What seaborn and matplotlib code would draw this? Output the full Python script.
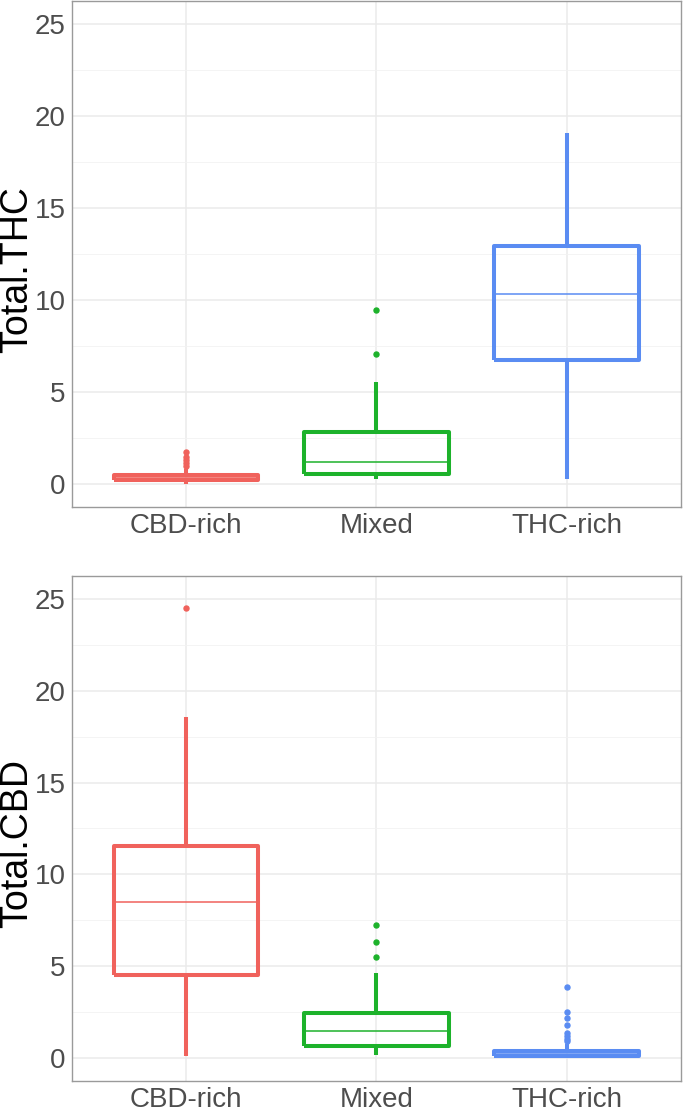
import pandas as pd
import matplotlib
matplotlib.use('Agg')
import matplotlib.pyplot as plt
from matplotlib.ticker import MultipleLocator
import seaborn as sns

# Category order and ggplot-like colours
categories = ['CBD-rich', 'Mixed', 'THC-rich']
colors = ['#F0625C', '#1DB22B', '#5A8CF2']

# Total.THC values per chemotype (estimated from the figure)
thc_cbd_rich = [0.0, 0.05, 0.1, 0.15, 0.15, 0.2, 0.2, 0.22, 0.25, 0.25, 0.28, 0.3, 0.3,
                0.32, 0.35, 0.4, 0.45, 0.5, 0.5, 0.8, 1.0, 1.15, 1.3, 1.45, 1.72]
thc_mixed = [0.27, 0.35, 0.45, 0.54, 0.7, 0.9, 1.2, 1.6, 2.2, 2.83, 5.54, 7.07, 9.46]
thc_thc_rich = [0.27, 6.74, 10.33, 12.93, 19.1]

# Total.CBD values per chemotype (estimated from the figure)
cbd_cbd_rich = [0.1, 2.5, 4.53, 6.5, 8.52, 10.0, 11.57, 18.56, 24.5]
cbd_mixed = [0.16, 0.3, 0.45, 0.55, 0.66, 0.9, 1.1, 1.3, 1.47, 1.7, 1.95, 2.2, 2.46,
             4.64, 5.51, 6.33, 7.26]
cbd_thc_rich = [0.0, 0.01, 0.02, 0.03, 0.04, 0.05, 0.06, 0.08, 0.09, 0.1,
                0.11, 0.12, 0.13, 0.14, 0.15, 0.17, 0.18, 0.19, 0.2,
                0.22, 0.24, 0.26, 0.28, 0.3, 0.33, 0.36, 0.38, 0.4,
                0.75, 0.92, 1.05, 1.2, 1.35, 1.8, 2.18, 2.5, 3.88]


def long_frame(values, name):
    rows = []
    for cat, vals in zip(categories, values):
        for v in vals:
            rows.append({'Type': cat, name: v})
    return pd.DataFrame(rows)


thc_df = long_frame([thc_cbd_rich, thc_mixed, thc_thc_rich], 'Total.THC')
cbd_df = long_frame([cbd_cbd_rich, cbd_mixed, cbd_thc_rich], 'Total.CBD')

sns.set_theme(style='whitegrid')
plt.rcParams['font.family'] = ['Liberation Sans', 'DejaVu Sans']

fig = plt.figure(figsize=(6.85, 11.12), dpi=100)
ax1 = fig.add_axes([0.1051, 0.5441, 0.889, 0.455])
ax2 = fig.add_axes([0.1051, 0.0279, 0.889, 0.4541])

for ax, df, col in [(ax1, thc_df, 'Total.THC'), (ax2, cbd_df, 'Total.CBD')]:
    sns.boxplot(data=df, x='Type', y=col, hue='Type', order=categories,
                hue_order=categories, palette=colors, fill=False, width=0.76,
                linewidth=2.9, legend=False, ax=ax, showcaps=False,
                medianprops={'linewidth': 1.1},
                flierprops={'marker': 'o', 'markersize': 3.6})
    # solid coloured outlier points
    for ln in ax.lines:
        ln.set_markerfacecolor(ln.get_markeredgecolor())
        ln.set_solid_capstyle('butt')

    ax.set_xlim(-0.6, 2.6)
    ax.set_ylim(-1.25, 26.25)
    ax.set_yticks([0, 5, 10, 15, 20, 25])
    ax.yaxis.set_minor_locator(MultipleLocator(2.5))
    ax.set_axisbelow(True)
    ax.grid(which='major', color='#EBEBEB', linewidth=1.1)
    ax.grid(which='minor', axis='y', color='#F2F2F2', linewidth=0.6)
    ax.set_facecolor('white')
    for sp in ax.spines.values():
        sp.set_visible(True)
        sp.set_color('#9A9A9A')
        sp.set_linewidth(1.0)
    ax.tick_params(axis='both', which='major', length=3.5, width=0.8,
                   color='#9A9A9A', labelcolor='#4D4D4D', pad=1,
                   labelsize=20)
    ax.tick_params(axis='y', which='minor', length=0)
    ax.set_xlabel('')
    ax.set_ylabel(col, fontsize=27, color='black')
    ax.yaxis.set_label_coords(-0.06, 0.47)

fig.savefig('out.png', dpi=100)
